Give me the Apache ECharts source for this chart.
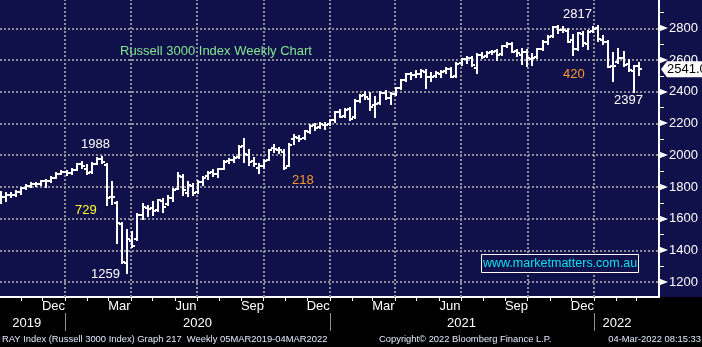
<!DOCTYPE html>
<html><head><meta charset="utf-8">
<script src="https://cdn.jsdelivr.net/npm/echarts@6/dist/echarts.min.js"></script>
<style>html,body{margin:0;padding:0;background:#000}#c{width:702px;height:347px}</style>
</head><body><div id="c"></div>
<script>
// ---------- data (weekly bars, Russell 3000 Index) ----------
const weeks = [
'2019-10-04','2019-10-11','2019-10-18','2019-10-25','2019-11-01','2019-11-08','2019-11-15','2019-11-22','2019-11-29','2019-12-06','2019-12-13','2019-12-20','2019-12-27',
'2020-01-03','2020-01-10','2020-01-17','2020-01-24','2020-01-31','2020-02-07','2020-02-14','2020-02-21','2020-02-28','2020-03-06','2020-03-13','2020-03-20','2020-03-27',
'2020-04-03','2020-04-10','2020-04-17','2020-04-24','2020-05-01','2020-05-08','2020-05-15','2020-05-22','2020-05-29','2020-06-05','2020-06-12','2020-06-19','2020-06-26',
'2020-07-03','2020-07-10','2020-07-17','2020-07-24','2020-07-31','2020-08-07','2020-08-14','2020-08-21','2020-08-28','2020-09-04','2020-09-11','2020-09-18','2020-09-25',
'2020-10-02','2020-10-09','2020-10-16','2020-10-23','2020-10-30','2020-11-06','2020-11-13','2020-11-20','2020-11-27','2020-12-04','2020-12-11','2020-12-18','2020-12-25',
'2021-01-01','2021-01-08','2021-01-15','2021-01-22','2021-01-29','2021-02-05','2021-02-12','2021-02-19','2021-02-26','2021-03-05','2021-03-12','2021-03-19','2021-03-26',
'2021-04-02','2021-04-09','2021-04-16','2021-04-23','2021-04-30','2021-05-07','2021-05-14','2021-05-21','2021-05-28','2021-06-04','2021-06-11','2021-06-18','2021-06-25',
'2021-07-02','2021-07-09','2021-07-16','2021-07-23','2021-07-30','2021-08-06','2021-08-13','2021-08-20','2021-08-27','2021-09-03','2021-09-10','2021-09-17','2021-09-24',
'2021-10-01','2021-10-08','2021-10-15','2021-10-22','2021-10-29','2021-11-05','2021-11-12','2021-11-19','2021-11-26','2021-12-03','2021-12-10','2021-12-17','2021-12-24',
'2021-12-31','2022-01-07','2022-01-14','2022-01-21','2022-01-28','2022-02-04','2022-02-11','2022-02-18','2022-02-25','2022-03-04'];

const opens = [
1760,1735,1748,1752,1770,1795,1806,1822,1820,1835,1840,1858,1885,
1895,1888,1906,1946,1915,1895,1945,1976,1940,1738,1700,1570,1320,
1462,1475,1622,1665,1668,1655,1712,1690,1728,1790,1862,1765,1805,
1768,1832,1870,1892,1882,1915,1962,1972,1988,2060,2000,1962,1920,
1935,1972,2045,2032,2022,1935,2105,2110,2108,2148,2190,2178,2190,
2195,2225,2270,2245,2290,2238,2342,2380,2352,2318,2330,2390,2358,
2388,2425,2474,2512,2508,2510,2525,2494,2498,2512,2528,2545,2500,
2578,2606,2612,2552,2634,2625,2648,2655,2636,2690,2700,2655,2630,
2650,2605,2618,2670,2716,2750,2810,2792,2780,2725,2672,2765,2700,
2782,2800,2728,2716,2560,2590,2612,2572,2530,2560];

const highs = [
1768,1765,1762,1775,1795,1812,1825,1828,1838,1842,1860,1888,1898,
1902,1912,1948,1955,1938,1950,1980,1988,1945,1834,1705,1573,1528,
1519,1632,1690,1682,1705,1718,1722,1742,1785,1888,1875,1830,1822,
1840,1862,1895,1910,1915,1962,1978,1990,2058,2102,2035,1985,1945,
1972,2036,2062,2048,2035,2068,2128,2122,2152,2188,2195,2205,2200,
2225,2275,2282,2292,2295,2345,2380,2400,2390,2369,2398,2405,2390,
2425,2474,2512,2520,2530,2535,2535,2515,2522,2530,2548,2552,2578,
2608,2618,2622,2635,2645,2650,2658,2662,2690,2710,2705,2665,2668,
2660,2635,2670,2720,2750,2808,2817,2808,2795,2760,2772,2775,2782,
2805,2815,2752,2722,2644,2670,2650,2600,2565,2582];

const lows = [
1702,1712,1735,1745,1755,1790,1798,1808,1815,1800,1830,1855,1880,
1878,1882,1904,1920,1880,1890,1942,1950,1687,1690,1448,1321,1259,
1424,1467,1600,1615,1622,1648,1640,1685,1710,1785,1750,1742,1752,
1760,1815,1852,1870,1862,1912,1950,1960,1985,1958,1940,1930,1888,
1918,1968,2022,2015,1912,1930,2070,2088,2105,2138,2160,2170,2165,
2188,2210,2238,2240,2220,2232,2338,2355,2288,2243,2325,2352,2320,
2380,2420,2470,2480,2496,2490,2422,2470,2492,2495,2520,2490,2495,
2570,2578,2565,2520,2615,2618,2638,2600,2630,2685,2650,2625,2575,
2560,2568,2612,2665,2700,2745,2770,2775,2712,2630,2665,2690,2672,
2778,2720,2700,2555,2470,2581,2565,2530,2397,2506];

const closes = [
1738,1748,1752,1770,1792,1806,1822,1818,1835,1840,1855,1885,1895,
1890,1905,1945,1930,1890,1945,1975,1955,1730,1740,1575,1325,1475,
1430,1625,1675,1660,1650,1715,1675,1730,1780,1870,1780,1810,1760,
1830,1858,1888,1880,1912,1960,1970,1985,2055,2005,1955,1945,1930,
1962,2035,2040,2030,1920,2062,2112,2100,2150,2186,2172,2196,2192,
2222,2272,2242,2288,2228,2340,2376,2366,2305,2320,2392,2360,2386,
2422,2472,2510,2505,2510,2530,2495,2495,2516,2527,2543,2495,2575,
2605,2610,2570,2632,2622,2646,2653,2632,2688,2700,2653,2645,2653,
2610,2615,2668,2716,2747,2806,2790,2790,2716,2668,2768,2705,2779,
2795,2731,2716,2558,2560,2610,2569,2537,2562,2541];

// axis ticks / labels
const yTickLabels = [1200,1400,1600,1800,2000,2200,2400,2600,2800];
const yMinorTicks = [1200,1300,1400,1500,1600,1700,1800,1900,2000,2100,2200,2300,2400,2500,2600,2700,2800,2900];
const monthStarts = ['2019-11-01','2019-12-01','2020-01-01','2020-02-01','2020-03-01','2020-04-01','2020-05-01','2020-06-01','2020-07-01','2020-08-01','2020-09-01','2020-10-01','2020-11-01','2020-12-01',
'2021-01-01','2021-02-01','2021-03-01','2021-04-01','2021-05-01','2021-06-01','2021-07-01','2021-08-01','2021-09-01','2021-10-01','2021-11-01','2021-12-01','2022-01-01','2022-02-01','2022-03-01'];
const monthLabelDates = ['2019-12-16','2020-03-16','2020-06-16','2020-09-16','2020-12-16','2021-03-16','2021-06-16','2021-09-16','2021-12-16'];
const quarterStarts = ['2020-01-01','2020-04-01','2020-07-01','2020-10-01','2021-01-01','2021-04-01','2021-07-01','2021-10-01','2022-01-01'];
const yearStarts = ['2020-01-01','2021-01-01','2022-01-01'];
const yearLabelDates = ['2019-11-09','2020-07-02','2021-07-02','2022-02-02'];
const MONTHS = ['Jan','Feb','Mar','Apr','May','Jun','Jul','Aug','Sep','Oct','Nov','Dec'];

const T = s => Date.UTC(+s.slice(0,4), +s.slice(5,7)-1, +s.slice(8,10));
const xMin = T('2019-10-03'), xMax = T('2022-04-01');
const FONT = '"Liberation Sans", Arial, sans-serif';
const NAVY = '#10104a';

const barData = weeks.map((d,i) => [T(d), opens[i], highs[i], lows[i], closes[i]]);

function renderBar(params, api) {
  const x = Math.round(api.coord([api.value(0), 0])[0]);
  const yo = Math.round(api.coord([0, api.value(1)])[1]);
  const yh = Math.round(api.coord([0, api.value(2)])[1]);
  const yl = Math.round(api.coord([0, api.value(3)])[1]);
  const yc = Math.round(api.coord([0, api.value(4)])[1]);
  const st = {stroke:'#ffffff', lineWidth:2};
  return {type:'group', children:[
    {type:'line', shape:{x1:x, y1:yh-1, x2:x, y2:yl+1}, style:st},
    {type:'line', shape:{x1:x-3, y1:yo, x2:x, y2:yo}, style:st},
    {type:'line', shape:{x1:x, y1:yc, x2:x+3, y2:yc}, style:st}
  ]};
}

const chart = echarts.init(document.getElementById('c'), null, {renderer:'canvas'});
const gridLS = {color:'#8e8e98', type:[2,2], width:2};

chart.setOption({
  animation:false,
  backgroundColor: NAVY,
  grid:{left:0, right:43, top:0, bottom:50, containLabel:false, outerBoundsMode:'none'},
  xAxis:[{
    type:'value', min:xMin, max:xMax, position:'bottom',
    axisLine:{show:true, onZero:false, lineStyle:{color:'#ffffff', width:2}},
    axisTick:{show:true, customValues: monthStarts.map(T), length:4, lineStyle:{color:'#ffffff', width:1}},
    axisLabel:{customValues: monthLabelDates.map(T), formatter: v => MONTHS[new Date(v).getUTCMonth()],
      color:'#ffffff', fontSize:13, fontFamily:FONT, margin:3, showMinLabel:true, showMaxLabel:true},
    splitLine:{show:false}
  },{
    type:'value', min:xMin, max:xMax, position:'bottom', offset:16,
    axisLine:{show:false},
    axisTick:{show:true, customValues: yearStarts.map(T), length:18, lineStyle:{color:'#909090', width:1}},
    axisLabel:{customValues: yearLabelDates.map(T), formatter: v => String(new Date(v).getUTCFullYear()),
      color:'#ffffff', fontSize:13, fontFamily:FONT, margin:4},
    splitLine:{show:false}
  }],
  yAxis:{
    type:'value', position:'right', min:1107, max:2978,
    axisLine:{show:true, lineStyle:{color:'#ffffff', width:2}},
    axisTick:{show:true, customValues:yMinorTicks, length:5, lineStyle:{color:'#ffffff', width:1}},
    axisLabel:{customValues:yTickLabels, formatter: v => String(v), color:'#ffffff', fontSize:13, fontFamily:FONT, margin:10},
    splitLine:{show:false}
  },
  series:[{
    type:'line', data:[], z:1, silent:true,
    markLine:{silent:true, symbol:['none','none'], label:{show:false}, animation:false,
      lineStyle:gridLS,
      data:[...yTickLabels.map(v=>({yAxis:v})), ...quarterStarts.map(d=>({xAxis:T(d)}))]}
  },{
    type:'custom', z:5, clip:true, renderItem:renderBar,
    encode:{x:0, y:[1,2,3,4]}, data:barData
  }]
});

function txt(x, y, text, fill, size, align) {
  return {type:'text', x:x, y:y, z:50, silent:true,
    style:{text:text, fill:fill, font: size+'px '+FONT, align:align||'left', textAlign:align||'left',
      verticalAlign:'middle', textVerticalAlign:'middle'}};
}

const last = closes[closes.length-1];
const yLast = chart.convertToPixel({yAxisIndex:0}, last);
const axisX = 659;
const g = [];
g.push({type:'rect', z:-100, silent:true, shape:{x:0, y:297, width:702, height:50}, style:{fill:'#000000'}});
yTickLabels.forEach(v => {
  const y = Math.round(chart.convertToPixel({yAxisIndex:0}, v));
  g.push({type:'polygon', z:40, silent:true, shape:{points:[[axisX,y-3.5],[axisX+9,y],[axisX,y+3.5]]}, style:{fill:'#ffffff'}});
});
g.push({type:'polygon', z:60, silent:true,
  shape:{points:[[661,yLast],[667,yLast-8],[704,yLast-8],[704,yLast+8],[667,yLast+8]]}, style:{fill:'#ffffff'}});
g.push(Object.assign(txt(667, yLast+0.5, last.toFixed(1), '#000000', 13), {z:61}));
g.push(txt(120, 51, 'Russell 3000 Index Weekly Chart', '#82e88e', 13));
g.push(txt(81, 144, '1988', '#ffffff', 13));
g.push(txt(75, 210, '729', '#ffff33', 13));
g.push(txt(91, 274, '1259', '#ffffff', 13));
g.push(txt(292, 180, '218', '#ff9a2a', 13));
g.push(txt(563, 14, '2817', '#ffffff', 13));
g.push(txt(563, 74, '420', '#ff9a2a', 13));
g.push(txt(614, 100, '2397', '#ffffff', 13));
g.push({type:'rect', z:45, silent:true, shape:{x:481.5, y:254.5, width:157, height:18}, style:{fill:NAVY, stroke:'#ffffff', lineWidth:1}});
g.push(txt(560, 264, 'www.marketmatters.com.au', '#10e0f0', 12.5, 'center'));
g.push(txt(2, 339, 'RAY Index (Russell 3000 Index) Graph 217  Weekly 05MAR2019-04MAR2022', '#e4eaff', 9.4));
g.push(txt(379, 339, 'Copyright\u00a9 2022 Bloomberg Finance L.P.', '#e4eaff', 9.4));
g.push(txt(701, 339, '04-Mar-2022 08:15:33', '#e4eaff', 9.4, 'right'));
chart.setOption({graphic:g});
</script></body></html>
